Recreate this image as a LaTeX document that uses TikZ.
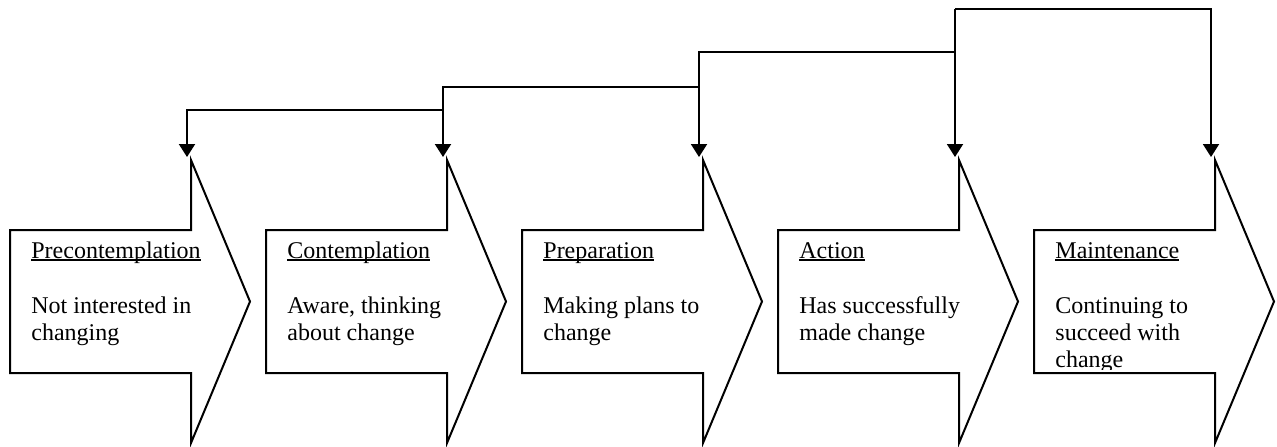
\documentclass[tikz,border=0pt]{standalone}
\usepackage{fontspec}
\setmainfont{Liberation Serif}
\usetikzlibrary{arrows.meta}
\newcommand\myul[1]{\setbox0=\hbox{#1}\rlap{\rule[-1.3pt]{\wd0}{0.6pt}}\box0}
\newcommand\lines[1]{\begin{tabular}[t]{@{}l@{}}#1\end{tabular}}
\tikzset{
  stageshape/.style={draw=black, line width=1pt, line join=miter, fill=white},
  conn/.style={line width=1pt, -{Triangle[length=6.5pt,width=8pt]}},
  ttl/.style={anchor=base west, inner sep=0pt, font=\fontsize{12}{13.5}\selectfont},
  bdy/.style={anchor=base west, inner sep=0pt, font=\fontsize{12}{13.5}\selectfont},
}
\begin{document}
\begin{tikzpicture}[x=0.5pt,y=-0.5pt]
\useasboundingbox (0,0) rectangle (1277,446);
\foreach \i in {1,...,5}{
  \pgfmathsetmacro\L{10+256*(\i-1)}
  \draw[stageshape] (\L,230) -- (\L+181,230) -- (\L+181,160) -- (\L+240,301.5)
     -- (\L+181,443) -- (\L+181,373) -- (\L,373) -- cycle;
  \coordinate (in\i) at (\L+177,157);
}
% texts
\node[ttl] (t1) at (31,258) {\myul{Precontemplation}};
\node[bdy] (b1) at (31,313.5) {\lines{Not interested in\\changing}};
\node[ttl] (t2) at (287,258) {\myul{Contemplation}};
\node[bdy] (b2) at (287,313.5) {\lines{Aware, thinking\\about change}};
\node[ttl] (t3) at (543,258) {\myul{Preparation}};
\node[bdy] (b3) at (543,313.5) {\lines{Making plans to\\change}};
\node[ttl] (t4) at (799,258) {\myul{Action}};
\node[bdy] (b4) at (799,313.5) {\lines{Has successfully\\made change}};
\begin{scope}
  \clip (1034,230) rectangle (1215,369);
  \node[ttl] (t5) at (1055,258) {\myul{Maintenance}};
  \node[bdy] (b5) at (1055,313.5) {\lines{Continuing to\\succeed with\\change}};
\end{scope}
% connectors
\coordinate (k1) at (443,110);
\coordinate (k2) at (699,87);
\coordinate (k3) at (955,52);
\coordinate (k4) at (955,9);
\draw[conn] (k1) -| (in1);
\draw[conn] (k2) -| (in2);
\draw[conn] (k3) -| (in3);
\draw[conn] (k4) -| (in5);
\draw[conn] (k4) -- (in4);
\end{tikzpicture}
\end{document}
